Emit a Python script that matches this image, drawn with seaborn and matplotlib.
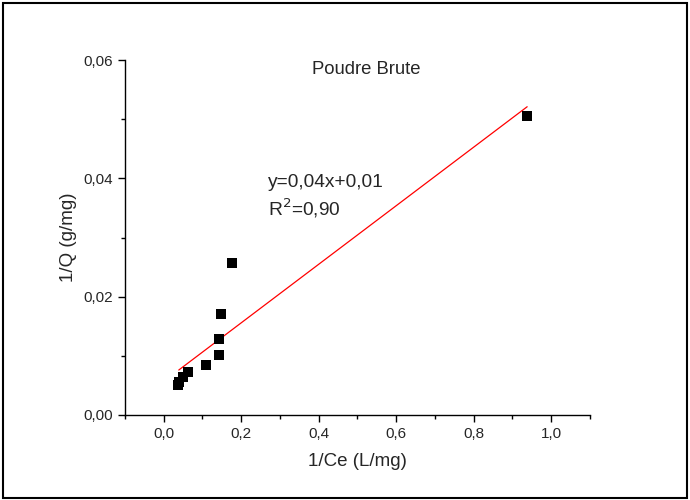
import matplotlib
matplotlib.use("Agg")
import matplotlib.pyplot as plt
import seaborn as sns
import pandas as pd
from matplotlib.patches import Rectangle
from matplotlib.ticker import MultipleLocator, FuncFormatter

# données
inv_ce = [0.036, 0.040, 0.049, 0.064, 0.109, 0.144, 0.144, 0.148, 0.177, 0.938]
inv_q = [0.0051, 0.0056, 0.0064, 0.0073, 0.0085, 0.0101, 0.0128, 0.0171, 0.0257, 0.0506]

# droite de régression (extrémités lues)
fit_x = [0.039, 0.938]
fit_y = [0.0076, 0.0521]

titre = "Poudre Brute"
equation = "y=0,04x+0,01"
r2 = "R$^2$=0,90"

df = pd.DataFrame({"x": inv_ce, "y": inv_q})
fit = pd.DataFrame({"x": fit_x, "y": fit_y})

sns.set_style("ticks")
plt.rcParams['font.family'] = ['Liberation Sans', 'DejaVu Sans']

fig = plt.figure(figsize=(6.9, 5), dpi=100)
ax = fig.add_axes([0.181, 0.17, 0.674, 0.71])

sns.lineplot(data=fit, x="x", y="y", color="red", linewidth=0.9, ax=ax)
sns.scatterplot(data=df, x="x", y="y", marker="s", color="black", s=45,
                edgecolor="black", linewidth=0, ax=ax, zorder=3)

ax.set_xlim(-0.1, 1.1)
ax.set_ylim(0, 0.06)
ax.xaxis.set_major_locator(MultipleLocator(0.2))
ax.xaxis.set_minor_locator(MultipleLocator(0.1))
ax.yaxis.set_major_locator(MultipleLocator(0.02))
ax.yaxis.set_minor_locator(MultipleLocator(0.01))
ax.xaxis.set_major_formatter(FuncFormatter(lambda v, p: f"{v:.1f}".replace(".", ",").replace("-0,0", "0,0")))
ax.yaxis.set_major_formatter(FuncFormatter(lambda v, p: f"{v:.2f}".replace(".", ",")))
ax.tick_params(which="major", direction="out", length=5, width=1, labelsize=11, color="black")
ax.tick_params(which="minor", direction="out", length=3, width=1, color="black")

sns.despine(ax=ax)
for s in ["left", "bottom"]:
    ax.spines[s].set_color("black")
    ax.spines[s].set_linewidth(1)

ax.set_xlabel("1/Ce (L/mg)", fontsize=13.5, labelpad=9)
ax.set_ylabel("1/Q (g/mg)", fontsize=13.5, labelpad=5)

ax.text(0.52, 0.972, titre, transform=ax.transAxes, ha="center", va="center", fontsize=13.3)
ax.text(0.307, 0.654, equation, transform=ax.transAxes, ha="left", va="center", fontsize=13.8)
ax.text(0.307, 0.583, r2, transform=ax.transAxes, ha="left", va="center", fontsize=13.8)

fig.patches.append(Rectangle((0.004, 0.005), 0.992, 0.99, transform=fig.transFigure,
                             fill=False, edgecolor="black", linewidth=1.5))

fig.savefig("out.png", dpi=100)
